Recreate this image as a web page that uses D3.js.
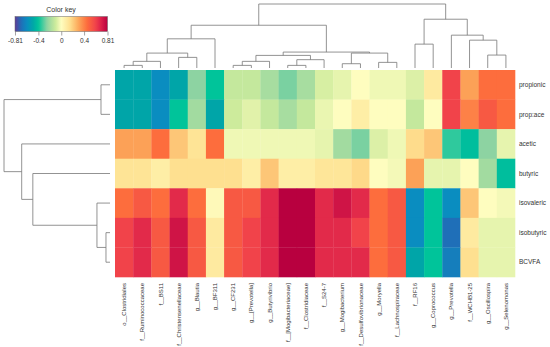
<!DOCTYPE html>
<html>
<head>
<meta charset="utf-8">
<script src="https://cdn.jsdelivr.net/npm/d3@7"></script>
<style>
  body { margin: 0; background: #fff; }
  text { font-family: "Liberation Sans", Arial, sans-serif; fill: #333; }
</style>
</head>
<body>
<svg id="chart" width="550" height="347"></svg>
<script>
// rows and columns of the correlation heatmap
var rowNames = ["propionic", "prop:ace", "acetic", "butyric", "isovaleric", "isobutyric", "BCVFA"];
var colNames = ["o__Clostridiales", "f__Ruminococcaceae", "f__BS11", "f__Christensenellaceae",
  "g__Blautia", "g__BF311", "g__CF231", "g__[Prevotella]", "g__Butyrivibrio",
  "f__[Mogibacteriaceae]", "f__Clostridiaceae", "f__S24-7", "g__Mogibacterium",
  "f__Desulfovibrionaceae", "g__Moryella", "f__Lachnospiraceae", "f__RF16",
  "g__Coprococcus", "g__Prevotella", "f__WCHB1-25", "g__Oscillospira", "g__Selenomonas"];

// correlation values, one array per row
var propionic  = [-0.5, -0.5, -0.6, -0.5, -0.25, -0.4, -0.12, -0.12, -0.19, -0.27, -0.19, -0.08, -0.05, 0, -0.03, -0.03, -0.07, 0.1, 0.6, 0.32, 0.45, 0.45];
var propAce    = [-0.5, -0.5, -0.6, -0.4, -0.2, -0.5, -0.1, -0.06, -0.12, -0.19, -0.12, -0.04, 0, 0.08, 0, 0, -0.12, 0, 0.6, 0.4, 0.52, 0.45];
var acetic     = [0.32, 0.32, 0.45, 0.22, 0.13, 0.45, -0.03, -0.03, -0.03, -0.03, -0.03, -0.05, -0.2, -0.27, -0.07, -0.03, 0.16, 0.22, -0.35, -0.42, -0.25, -0.05];
var butyric    = [0.13, 0.13, 0.08, 0.15, 0.15, 0.15, 0.15, 0.08, 0.22, 0.08, 0.08, 0.12, 0.12, 0.17, 0, -0.02, 0.32, -0.05, -0.05, 0, -0.2, -0.42];
var isovaleric = [0.45, 0.52, 0.45, 0.67, 0.45, 0.02, 0.52, 0.52, 0.67, 0.81, 0.81, 0.67, 0.74, 0.67, 0.45, 0.52, -0.6, -0.4, -0.6, 0.22, 0, -0.02];
var isobutyric = [0.6, 0.67, 0.52, 0.74, 0.52, 0.1, 0.52, 0.6, 0.67, 0.81, 0.81, 0.67, 0.67, 0.6, 0.45, 0.52, -0.6, -0.4, -0.7, 0.1, -0.05, -0.05];
var bcvfa      = [0.6, 0.67, 0.52, 0.74, 0.52, 0.1, 0.52, 0.6, 0.67, 0.81, 0.81, 0.67, 0.67, 0.67, 0.45, 0.52, -0.5, -0.4, -0.65, 0.15, -0.05, -0.05];
var matrix = [propionic, propAce, acetic, butyric, isovaleric, isobutyric, bcvfa];

// hclust style merges: negative = leaf (1-based), positive = earlier merge, then height
var colMerge = [
  [-1, -2, 0.041], [1, -3, 0.104], [-4, -5, 0.166], [2, 3, 0.233], [4, -6, 0.456],
  [-7, -8, 0.041], [6, -9, 0.104], [-10, -11, 0.041], [8, -12, 0.130], [7, 9, 0.197],
  [-13, -14, 0.067], [-15, -16, 0.088], [11, 12, 0.233], [10, 13, 0.249], [5, 14, 0.668],
  [-17, -18, 0.373], [-21, -22, 0.202], [-20, 17, 0.435], [-19, 18, 0.513], [16, 19, 0.762],
  [15, 20, 1.0]
];
var rowMerge = [
  [-1, -2, 0.085], [-6, -7, 0.038], [-5, 2, 0.123], [-4, 3, 0.728], [-3, 4, 0.833], [1, 5, 1.0]
];

var keyTicks = [-0.81, -0.4, 0, 0.4, 0.81];

var svg = d3.select("#chart");

var hm = {left: 115, right: 515, top: 70, bottom: 277};

var color = d3.scaleLinear()
    .domain([-0.81, -0.7, -0.6, -0.5, -0.4, -0.25, -0.1, 0, 0.15, 0.3, 0.45, 0.6, 0.7, 0.81])
    .range(["#5e3c99", "#1f6fb8", "#0a8dc0", "#00a5a8", "#00c49a", "#8dd3a2", "#cdeb9c",
            "#fefdbf", "#fee090", "#fca95b", "#fd6d3d", "#f1434a", "#dc1f4a", "#b8003f"])
    .clamp(true);

var xScale = d3.scaleBand().domain(d3.range(colNames.length)).range([hm.left, hm.right]);
var yScale = d3.scaleBand().domain(d3.range(rowNames.length)).range([hm.top, hm.bottom]);

// cells
var cells = [];
matrix.forEach(function(row, r) {
  row.forEach(function(v, c) { cells.push({r: r, c: c, v: v}); });
});
svg.append("g").selectAll("rect")
    .data(cells)
    .enter().append("rect")
    .attr("x", function(d) { return xScale(d.c); })
    .attr("y", function(d) { return yScale(d.r); })
    .attr("width", xScale.bandwidth() + 0.3)
    .attr("height", yScale.bandwidth() + 0.3)
    .attr("fill", function(d) { return color(d.v); });

// row labels
svg.append("g").selectAll("text")
    .data(rowNames)
    .enter().append("text")
    .attr("x", hm.right + 4)
    .attr("y", function(d, i) { return yScale(i) + yScale.bandwidth() / 2; })
    .attr("dy", "0.35em")
    .style("font-size", "6.5px")
    .text(function(d) { return d; });

// column labels
svg.append("g").selectAll("text")
    .data(colNames)
    .enter().append("text")
    .attr("transform", function(d, i) {
      return "translate(" + (xScale(i) + xScale.bandwidth() / 2) + "," + (hm.bottom + 6) + ") rotate(-90)";
    })
    .attr("dy", "0.35em")
    .style("text-anchor", "end")
    .style("font-size", "6px")
    .text(function(d) { return d; });

// dendrogram segments from a merge table
function dendroSegments(merge, leafPos) {
  var nodes = [];
  function pos(id) {
    return id < 0 ? {p: leafPos(-id - 1), h: 0} : nodes[id - 1];
  }
  var segs = [];
  merge.forEach(function(m) {
    var a = pos(m[0]), b = pos(m[1]), h = m[2];
    segs.push([a.p, a.h, a.p, h]);
    segs.push([b.p, b.h, b.p, h]);
    segs.push([a.p, h, b.p, h]);
    nodes.push({p: (a.p + b.p) / 2, h: h});
  });
  return segs;
}

var colH = d3.scaleLinear().domain([0, 1]).range([68, 4]);
var colSegs = dendroSegments(colMerge, function(i) { return xScale(i) + xScale.bandwidth() / 2; });
svg.append("g").selectAll("line")
    .data(colSegs)
    .enter().append("line")
    .attr("x1", function(d) { return d[0]; })
    .attr("y1", function(d) { return colH(d[1]); })
    .attr("x2", function(d) { return d[2]; })
    .attr("y2", function(d) { return colH(d[3]); })
    .attr("stroke", "#777")
    .attr("stroke-width", 0.8);

var rowH = d3.scaleLinear().domain([0, 1]).range([110, 4]);
var rowSegs = dendroSegments(rowMerge, function(i) { return yScale(i) + yScale.bandwidth() / 2; });
svg.append("g").selectAll("line")
    .data(rowSegs)
    .enter().append("line")
    .attr("x1", function(d) { return rowH(d[1]); })
    .attr("y1", function(d) { return d[0]; })
    .attr("x2", function(d) { return rowH(d[3]); })
    .attr("y2", function(d) { return d[2]; })
    .attr("stroke", "#777")
    .attr("stroke-width", 0.8);

// color key
var keyScale = d3.scaleLinear().domain([-0.81, 0.81]).range([15, 107.5]);
var grad = svg.append("defs").append("linearGradient")
    .attr("id", "keygrad")
    .attr("x1", "0%").attr("x2", "100%");
d3.range(0, 1.0001, 0.02).forEach(function(t) {
  grad.append("stop")
      .attr("offset", (t * 100) + "%")
      .attr("stop-color", color(-0.81 + t * 1.62));
});
svg.append("rect")
    .attr("x", keyScale(-0.81))
    .attr("y", 16.5)
    .attr("width", keyScale(0.81) - keyScale(-0.81))
    .attr("height", 15)
    .attr("fill", "url(#keygrad)")
    .attr("stroke", "#666")
    .attr("stroke-width", 0.5);

var keyAxis = d3.axisBottom(keyScale)
    .tickValues(keyTicks)
    .tickSize(4)
    .tickFormat(function(d) { return d; });
var kg = svg.append("g")
    .attr("transform", "translate(0,31.5)")
    .call(keyAxis);
kg.select(".domain").remove();
kg.selectAll("line").attr("stroke", "#666").attr("stroke-width", 0.6);
kg.selectAll("text").style("font-size", "6.5px").attr("fill", "#333").attr("y", 7);

svg.append("text")
    .attr("x", 61)
    .attr("y", 12)
    .style("text-anchor", "middle")
    .style("font-size", "7px")
    .text("Color key");
</script>
</body>
</html>
